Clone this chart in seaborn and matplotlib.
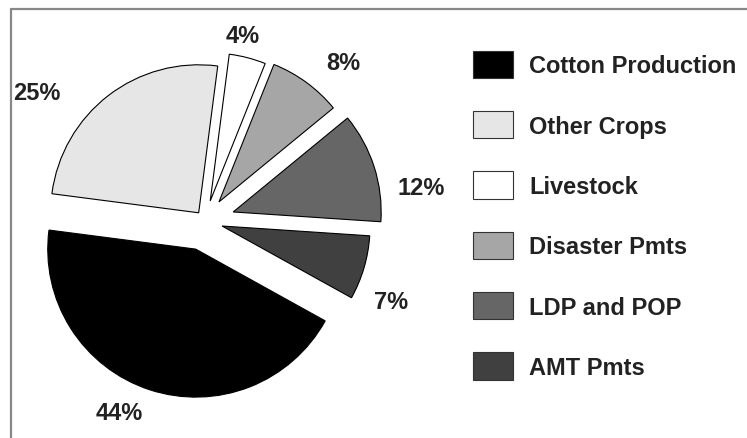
import matplotlib
matplotlib.use("Agg")
import matplotlib.pyplot as plt
from matplotlib.patches import Patch
from matplotlib.lines import Line2D
import numpy as np
import seaborn as sns

# data
categories = ["Cotton Production", "Other Crops", "Livestock", "Disaster Pmts", "LDP and POP", "AMT Pmts"]
shares = [44, 25, 4, 8, 12, 7]
colors = ["#000000", "#e6e6e6", "#ffffff", "#a6a6a6", "#666666", "#404040"]
explode = [0.2, 0.07, 0.14, 0.16, 0.2, 0.12]

# label placement tweaks (angle shift in deg, distance in radii)
lbl_shift = [-6, 15, 3, -5, -9, -7]
lbl_dist = [1.42, 1.43, 1.28, 1.42, 1.48, 1.37]

sns.set_style("white")
plt.rcParams["font.family"] = ["Liberation Sans", "DejaVu Sans"]

fig = plt.figure(figsize=(7.47, 4.39), dpi=100)
ax = fig.add_axes([20 / 747, 1 - 407 / 439, 370 / 747, 370 / 439])

wedges, texts, autotexts = ax.pie(
    shares, colors=colors, explode=explode, startangle=-29, counterclock=False,
    autopct="%d%%", pctdistance=1.3,
    wedgeprops=dict(edgecolor="black", linewidth=0.8),
    textprops=dict(fontsize=17, fontweight="bold", color="#222222"),
)
ax.set_aspect("equal")

for w, t, sh, d in zip(wedges, autotexts, lbl_shift, lbl_dist):
    ang = np.deg2rad((w.theta1 + w.theta2) / 2 + sh)
    t.set_position((d * np.cos(ang), d * np.sin(ang)))

# legend
handles = [Patch(facecolor=c, edgecolor="#333333", linewidth=0.8) for c in colors]
fig.legend(handles, categories, loc="upper left", bbox_to_anchor=(461 / 747, 1 - 40 / 439),
           frameon=False, borderpad=0, handlelength=1.7, handleheight=1.4,
           handletextpad=0.7, labelspacing=1.4,
           prop=dict(size=17, weight="bold"), labelcolor="#222222")

# grey frame on top and left
fig.add_artist(Line2D([11 / 747, 11 / 747], [0, 1 - 10 / 439], transform=fig.transFigure,
                      color="#888888", linewidth=1.6))
fig.add_artist(Line2D([11 / 747, 1], [1 - 10 / 439, 1 - 10 / 439], transform=fig.transFigure,
                      color="#888888", linewidth=1.6))

fig.savefig("out.png", dpi=100)
